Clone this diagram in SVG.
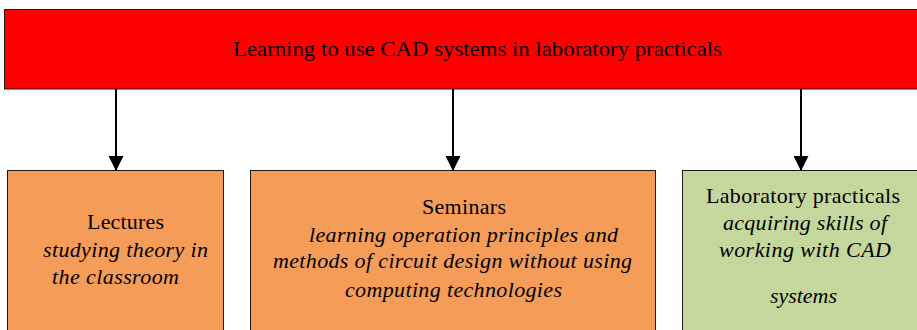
<svg xmlns="http://www.w3.org/2000/svg" width="917" height="330" viewBox="0 0 917 330">
<defs>
<style>
.box{stroke:#1a1a1a;stroke-width:1}
.c{stroke:#000;stroke-width:2;fill:none}
.t{font-family:'Liberation Serif',serif;font-size:22px;fill:#000}
.i{font-style:italic}
</style>
<marker id="ah" markerWidth="15" markerHeight="15" refX="15" refY="7.5" orient="auto" markerUnits="userSpaceOnUse">
<path d="M0,0 L15,7.5 L0,15 Z" fill="#000"/>
</marker>
</defs>
<rect width="917" height="330" fill="#fff"/>
<g id="top">
<rect class="box" x="4.5" y="9.5" width="920" height="79.5" fill="#ff0000"/>
<text class="t" x="233" y="56" textLength="489" lengthAdjust="spacingAndGlyphs">Learning to use CAD systems in laboratory practicals</text>
</g>
<g id="connectors">
<line class="c" x1="116" y1="89" x2="116" y2="171" marker-end="url(#ah)"/>
<line class="c" x1="453" y1="89" x2="453" y2="171" marker-end="url(#ah)"/>
<line class="c" x1="801" y1="89" x2="801" y2="171" marker-end="url(#ah)"/>
</g>
<g id="lectures">
<rect class="box" x="7.5" y="170.5" width="216" height="170" fill="#f59d58"/>
<text class="t" x="87" y="229" textLength="77">Lectures</text>
<text class="t i" x="43" y="257" textLength="165">studying theory in</text>
<text class="t i" x="52" y="284" textLength="127">the classroom</text>
</g>
<g id="seminars">
<rect class="box" x="250.5" y="170.5" width="405" height="170" fill="#f59d58"/>
<text class="t" x="422" y="214" textLength="84">Seminars</text>
<text class="t i" x="309" y="242" textLength="309">learning operation principles and</text>
<text class="t i" x="273" y="268" textLength="359">methods of circuit design without using</text>
<text class="t i" x="345" y="297" textLength="217">computing technologies</text>
</g>
<g id="lab">
<rect class="box" x="682.5" y="170.5" width="250" height="170" fill="#c4d79c"/>
<text class="t" x="706" y="203" textLength="194">Laboratory practicals</text>
<text class="t i" x="723" y="230" textLength="164">acquiring skills of</text>
<text class="t i" x="719" y="257" textLength="172">working with CAD</text>
<text class="t i" x="770" y="303" textLength="67">systems</text>
</g>
</svg>
